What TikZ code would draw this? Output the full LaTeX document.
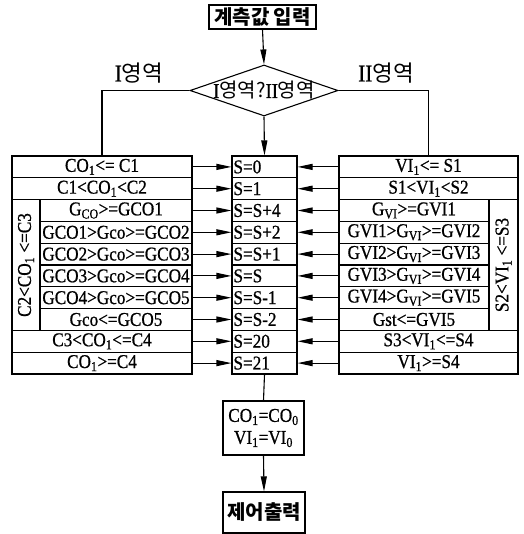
\documentclass[tikz,border=0pt]{standalone}
\usepackage{fontspec}
\setmainfont{Liberation Serif}[FakeStretch=0.88,FakeBold=0.8]
\newfontfamily\kr{Noto Sans CJK KR}
\usetikzlibrary{arrows.meta,shapes.geometric}
\begin{document}
\begin{tikzpicture}[x=1pt,y=-1pt,line width=1.1pt,
  cell/.style={draw,rectangle,inner sep=0pt,minimum height=21.8pt,font=\fontsize{19.5}{20}\selectfont},
  lwide/.style={cell,minimum width=180pt},
  lnarrow/.style={cell,minimum width=152pt},
  scell/.style={cell,text width=62pt,inner xsep=1.5pt,align=left},
  rwide/.style={cell,minimum width=179pt},
  rnarrow/.style={cell,minimum width=150pt},
  sidecol/.style={draw,rectangle,inner sep=0pt,rotate=90,minimum width=130.8pt,font=\fontsize{19.5}{20}\selectfont},
  arr/.style={-{Triangle[length=15pt,width=6pt]}},
  krlab/.style={font=\kr\fontsize{20}{20}\selectfont},
  krside/.style={font=\kr\fontsize{22.5}{22.5}\selectfont},
  krbox/.style={draw,rectangle,inner sep=0pt,font=\kr\bfseries\fontsize{20}{20}\selectfont}]
\useasboundingbox (0,0) rectangle (523,534);

% top
\node[krbox,minimum width=107pt,minimum height=24pt] (T) at (262.5,17) {계측값 입력};
\node[draw,diamond,inner sep=0pt,minimum width=148pt,minimum height=51pt] (D) at (264,90.5) {};
\node[krlab] (Dt) at (D.center) {{\normalfont\fontsize{21}{21}\selectfont I}영역?{\normalfont\fontsize{21}{21}\selectfont II}영역};
\node[krside] (labI) at (139,73) {{\normalfont\fontsize{24}{24}\selectfont I}영역};
\node[krside] (labII) at (386,73) {{\normalfont\fontsize{24}{24}\selectfont II}영역};

% left block
\node[lwide] (L1) at (102,166.9) {CO\textsubscript{1}<= C1};
\node[lwide] (L2) at (102,188.7) {C1<CO\textsubscript{1}<C2};
\node[lnarrow] (L3) at (116,210.5) {G\textsubscript{CO}>=GCO1};
\node[lnarrow] (L4) at (116,232.3) {GCO1>Gco>=GCO2};
\node[lnarrow] (L5) at (116,254.1) {GCO2>Gco>=GCO3};
\node[lnarrow] (L6) at (116,275.9) {GCO3>Gco>=GCO4};
\node[lnarrow] (L7) at (116,297.7) {GCO4>Gco>=GCO5};
\node[lnarrow] (L8) at (116,319.5) {Gco<=GCO5};
\node[lwide] (L9) at (102,341.3) {C3<CO\textsubscript{1}<=C4};
\node[lwide] (L10) at (102,363.1) {CO\textsubscript{1}>=C4};
\node[sidecol,minimum height=28pt] (LC) at (26,265) {C2<CO\textsubscript{1} <=C3};

% center block
\node[scell] (S1) at (264.5,166.9) {S=0};
\node[scell] (S2) at (264.5,188.7) {S=1};
\node[scell] (S3) at (264.5,210.5) {S=S+4};
\node[scell] (S4) at (264.5,232.3) {S=S+2};
\node[scell] (S5) at (264.5,254.1) {S=S+1};
\node[scell] (S6) at (264.5,275.9) {S=S};
\node[scell] (S7) at (264.5,297.7) {S=S-1};
\node[scell] (S8) at (264.5,319.5) {S=S-2};
\node[scell] (S9) at (264.5,341.3) {S=20};
\node[scell] (S10) at (264.5,363.1) {S=21};

% right block
\node[rwide] (R1) at (428.5,166.9) {VI\textsubscript{1}<= S1};
\node[rwide] (R2) at (428.5,188.7) {S1<VI\textsubscript{1}<S2};
\node[rnarrow] (R3) at (414,210.5) {G\textsubscript{VI}>=GVI1};
\node[rnarrow] (R4) at (414,232.3) {GVI1>G\textsubscript{VI}>=GVI2};
\node[rnarrow] (R5) at (414,254.1) {GVI2>G\textsubscript{VI}>=GVI3};
\node[rnarrow] (R6) at (414,275.9) {GVI3>G\textsubscript{VI}>=GVI4};
\node[rnarrow] (R7) at (414,297.7) {GVI4>G\textsubscript{VI}>=GVI5};
\node[rnarrow] (R8) at (414,319.5) {Gst<=GVI5};
\node[rwide] (R9) at (428.5,341.3) {S3<VI\textsubscript{1}<=S4};
\node[rwide] (R10) at (428.5,363.1) {VI\textsubscript{1}>=S4};
\node[sidecol,minimum height=29pt] (RC) at (503.5,265) {S2<VI\textsubscript{1} <=S3};

% bottom
\node[draw,rectangle,inner sep=0pt,minimum width=81pt,minimum height=54pt,align=center,font=\fontsize{19.5}{22}\selectfont] (M) at (263.5,428) {CO\textsubscript{1}=CO\textsubscript{0}\\VI\textsubscript{1}=VI\textsubscript{0}};
\node[krbox,minimum width=82pt,minimum height=41pt] (E) at (264,512.5) {제어출력};

% connectors
\draw[arr] (T.south) -- (D.north);
\draw (D.west) -| (L1.north);
\draw (D.east) -| (R1.north);
\draw[arr] (D.south) -- (S1.north);
\foreach \i in {1,...,10}{
  \draw[arr] (L\i.east) -- (S\i.west);
  \draw[arr] (R\i.west) -- (S\i.east);
}
\draw (S10.south) -- (M.north);
\draw[arr] (M.south) -- (E.north);
\end{tikzpicture}
\end{document}
